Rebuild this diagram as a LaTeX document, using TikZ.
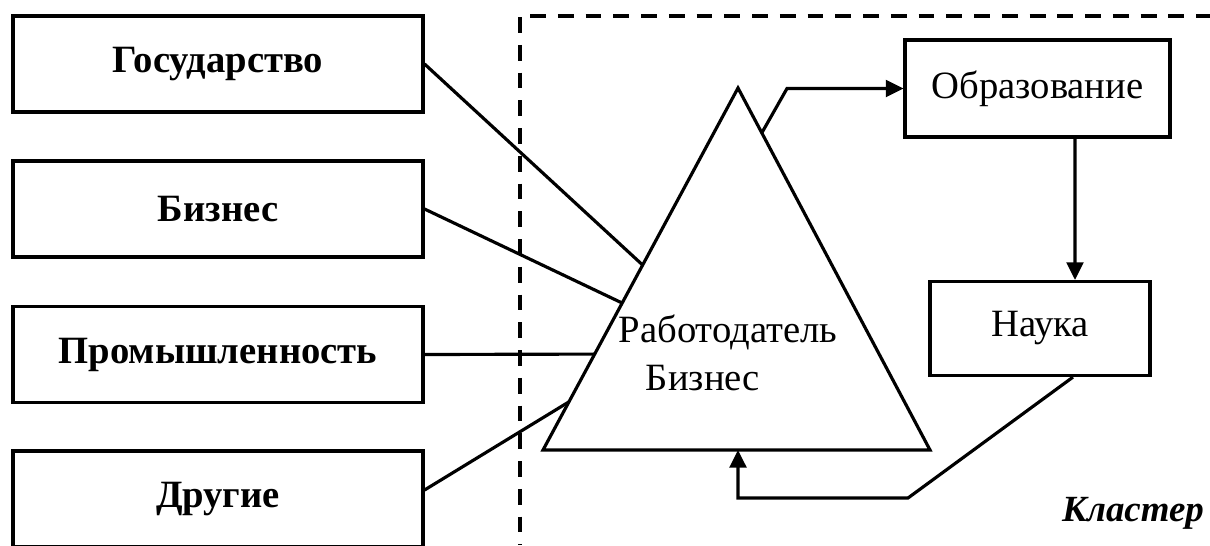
\documentclass[tikz,border=0pt]{standalone}
\usepackage{fontspec}
\setmainfont{Liberation Serif}
\usetikzlibrary{arrows.meta,calc}

\tikzset{
  lw/.style={line width=1.8pt},
  srcbox/.style={draw,lw,minimum width=8.2cm,minimum height=1.92cm,font=\fontsize{22}{26}\selectfont\bfseries},
  unitbox/.style={draw,lw,font=\fontsize{22}{26}\selectfont},
  arr/.style={lw,-{Triangle[length=10pt,width=9.5pt]}},
}

\begin{document}
\begin{tikzpicture}[x=0.02cm,y=-0.02cm]
    \clip (0,0) rectangle (1210,545);
    % cluster border
    \draw[lw,dash pattern=on 9pt off 6.8pt] (520,17) -- (520,545);
    \draw[lw,dash pattern=on 9pt off 6.8pt] (530,16) -- (1210,16);
    % triangle
    \draw[lw,line join=miter]
    (543,450) coordinate (tl) -- (738,88) coordinate (tt) -- (930,450) coordinate (tr) -- cycle;
    \draw
    (218,64) node[srcbox] (gov) {Государство}
    (218,209) node[srcbox] (biz) {Бизнес}
    (218,354.5) node[srcbox] (ind) {Промышленность}
    (218,499) node[srcbox] (oth) {Другие}
    (1037.5,88.5) node[unitbox,minimum width=5.3cm,minimum height=1.94cm] (edu) {Образование}
    (1040,328.5) node[unitbox,minimum width=4.4cm,minimum height=1.88cm] (sci) {Наука}
    (728,332) node[font=\fontsize{22}{26}\selectfont] (emp) {Работодатель}
    (703,378) node[font=\fontsize{22}{26}\selectfont] (empbiz) {Бизнес}
    (1133,513) node[font=\fontsize{21}{25}\selectfont\bfseries\itshape] (clu) {Кластер};
    % links to the triangle
    \draw[lw]
    (gov.east) -- ($(tl)!0.511!(tt)$)
    (biz.east) -- ($(tl)!0.406!(tt)$)
    (ind.east) -- ($(tl)!0.265!(tt)$)
    ([yshift=0.18cm]oth.east) -- ($(tl)!0.133!(tt)$);
    \draw[arr] ($(tt)!0.124!(tr)$) -- (787,88.5) -- (edu.west);
    \draw[arr] ([xshift=0.75cm]edu.south) -- ([xshift=0.7cm]sci.north);
    \draw[arr] ([xshift=0.66cm]sci.south) -- (908,498) -- (738,498) -- (tt |- tl);
  \end{tikzpicture}
\end{document}
